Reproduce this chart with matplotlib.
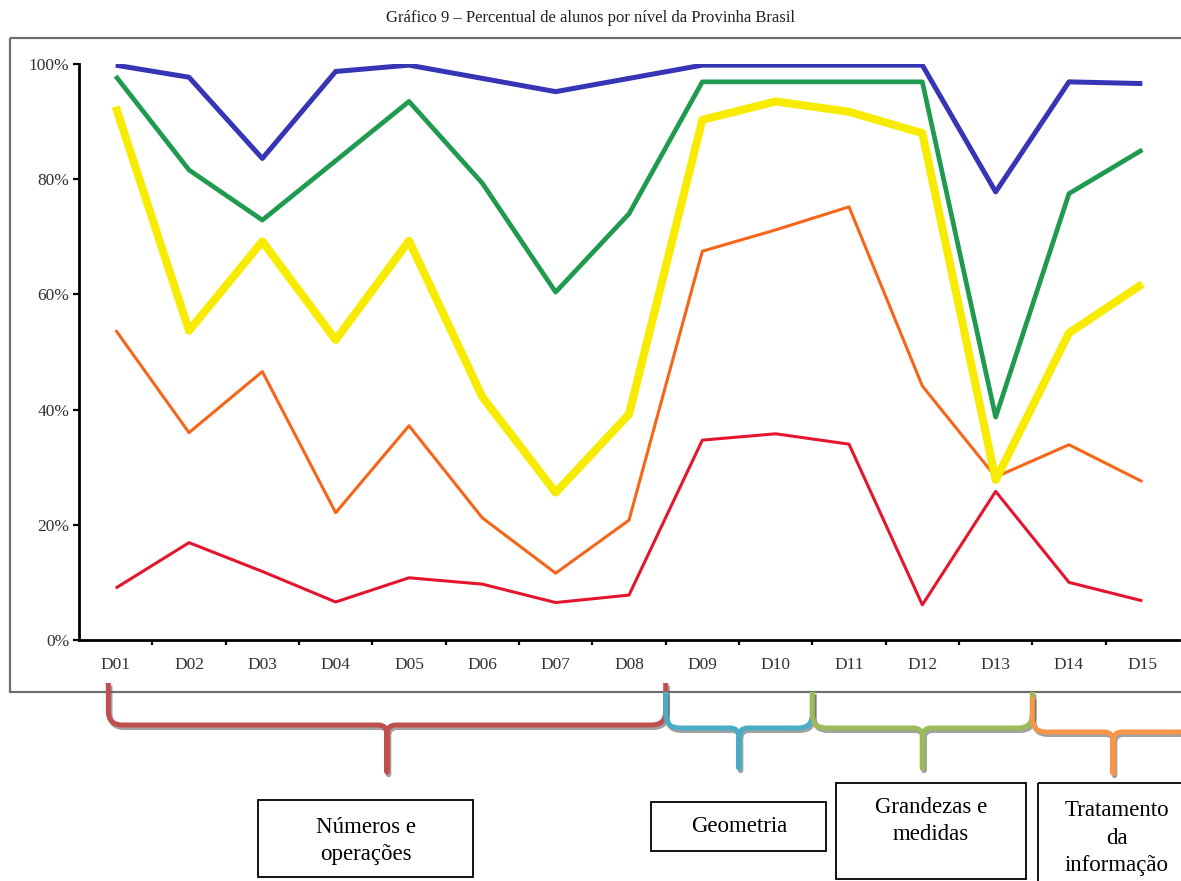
import matplotlib

matplotlib.use("Agg")

import matplotlib.patheffects as pe
import matplotlib.pyplot as plt
from matplotlib.patches import PathPatch, Rectangle
from matplotlib.path import Path

plt.rcParams["font.family"] = ["Liberation Serif", "DejaVu Serif"]

# Descritores D01..D15 e percentual de alunos por nível (%)
descritores = ["D01", "D02", "D03", "D04", "D05", "D06", "D07", "D08",
               "D09", "D10", "D11", "D12", "D13", "D14", "D15"]
nivel_azul = [99.8, 97.7, 83.6, 98.7, 99.8, 97.5, 95.2, 97.5,
              99.8, 99.8, 99.8, 99.8, 77.8, 96.9, 96.6]
nivel_verde = [97.9, 81.6, 72.9, 83.2, 93.5, 79.3, 60.4, 74.0,
               96.9, 96.9, 96.9, 96.9, 38.7, 77.5, 85.1]
nivel_amarelo = [92.6, 53.7, 69.2, 52.1, 69.3, 42.2, 25.6, 39.2,
                 90.3, 93.5, 91.7, 88.0, 27.8, 53.3, 61.8]
nivel_laranja = [53.8, 36.0, 46.6, 22.1, 37.2, 21.2, 11.6, 20.8,
                 67.5, 71.2, 75.2, 44.1, 28.3, 33.9, 27.5]
nivel_vermelho = [9.0, 16.9, 11.9, 6.6, 10.8, 9.7, 6.5, 7.8,
                  34.7, 35.8, 34.0, 6.1, 25.8, 10.0, 6.8]

# Eixos temáticos: primeiro e último descritor de cada bloco
eixos = ["Números e\noperações", "Geometria", "Grandezas e\nmedidas",
         "Tratamento\nda\ninformação"]
eixo_inicio = ["D01", "D09", "D11", "D14"]
eixo_fim = ["D08", "D10", "D13", "D15"]

W, H = 1181, 881
fig = plt.figure(figsize=(W / 100, H / 100), dpi=100)

# camada de fundo em pixels: moldura, chaves e caixas
ov = fig.add_axes([0, 0, 1, 1], zorder=0)
ov.set_xlim(0, W)
ov.set_ylim(H, 0)
ov.axis("off")

ax = fig.add_axes([79 / W, (H - 640) / H, (1179 - 79) / W, (640 - 64) / H], zorder=1)
ax.set_facecolor("none")

x = list(range(len(descritores)))
series = [
    (nivel_vermelho, "#e3162e", 2.2),
    (nivel_laranja, "#f5661a", 2.2),
    (nivel_amarelo, "#f7ec00", 5.8),
    (nivel_verde, "#1f9a4f", 3.4),
    (nivel_azul, "#3535b5", 3.6),
]
for values, color, lw in series:
    ax.plot(x, values, color=color, linewidth=lw, solid_joinstyle="round",
            solid_capstyle="butt")

ax.set_xlim(-0.5, len(descritores) - 0.5)
ax.set_ylim(0, 100)
ax.set_yticks(range(0, 101, 20))
ax.set_yticklabels([f"{v}%" for v in range(0, 101, 20)])
ax.set_xticks(x)
ax.set_xticklabels(descritores)
ax.set_xticks([i + 0.5 for i in x[:-1]], minor=True)
ax.tick_params(axis="x", which="major", length=0, pad=12)
ax.tick_params(axis="x", which="minor", length=3.5, width=1.6, direction="out")
ax.tick_params(axis="y", length=4, width=1.6, pad=3)
ax.tick_params(labelsize=12.5, labelcolor="#333333")
for side in ("top", "right"):
    ax.spines[side].set_visible(False)
for side in ("left", "bottom"):
    ax.spines[side].set_linewidth(2.0)
    ax.spines[side].set_color("black")

fig.text(0.5, 1 - 18 / H,
         "Gráfico 9 – Percentual de alunos por nível da Provinha Brasil",
         ha="center", va="center", fontsize=12, color="#222222")

# moldura do gráfico
ov.add_patch(Rectangle((10, 38), 1190, 654, fill=False, edgecolor="#6e6e6e",
                       linewidth=1.6))


def brace_path(xa, xb, y_top, y_h, y_tip, r=14, rm=9):
    xm = (xa + xb) / 2
    verts = [(xa, y_top), (xa, y_h - r), (xa, y_h), (xa + r, y_h),
             (xm - rm, y_h), (xm, y_h), (xm, y_h + rm), (xm, y_tip),
             (xm, y_h + rm), (xm, y_h), (xm + rm, y_h),
             (xb - r, y_h), (xb, y_h), (xb, y_h - r), (xb, y_top)]
    codes = [Path.MOVETO, Path.LINETO, Path.CURVE3, Path.CURVE3,
             Path.LINETO, Path.CURVE3, Path.CURVE3, Path.LINETO,
             Path.LINETO, Path.CURVE3, Path.CURVE3,
             Path.LINETO, Path.CURVE3, Path.CURVE3, Path.LINETO]
    return Path(verts, codes)


def to_px(xd):
    return ax.transData.transform((xd, 0))[0]


brace_colors = ["#c0504d", "#4bacc6", "#9bbb59", "#f79646"]
brace_y = [(683, 725, 772), (692, 728, 768), (692, 728, 768), (697, 732, 773)]
boxes = [(258, 800, 473, 877), (651, 802, 826, 851),
         (836, 783, 1026, 879), (1038, 783, 1200, 900)]
text_x = [366, 739, 931, 1117]
text_y = [841, 827, 821, 838]

for i, nome in enumerate(eixos):
    a = max(descritores.index(eixo_inicio[i]) - 0.5, -0.1)
    b = descritores.index(eixo_fim[i]) + 0.5
    if i == len(eixos) - 1:
        # a última chave continua além da borda da figura
        b += 0.2
    y_top, y_h, y_tip = brace_y[i]
    patch = PathPatch(brace_path(to_px(a), to_px(b), y_top, y_h, y_tip),
                      fill=False, edgecolor=brace_colors[i], linewidth=3.6,
                      capstyle="butt", joinstyle="round")
    patch.set_path_effects([
        pe.SimpleLineShadow(offset=(1.2, -1.8), shadow_color="#555555", alpha=0.55),
        pe.Normal(),
    ])
    ov.add_patch(patch)

    l, t, r, btm = boxes[i]
    ov.add_patch(Rectangle((l, t), r - l, btm - t, fill=False,
                           edgecolor="black", linewidth=1.3))
    ov.text(text_x[i], text_y[i], nome, ha="center", va="center", fontsize=16.5,
            linespacing=1.38, color="black")

fig.savefig("out.png", dpi=100)
